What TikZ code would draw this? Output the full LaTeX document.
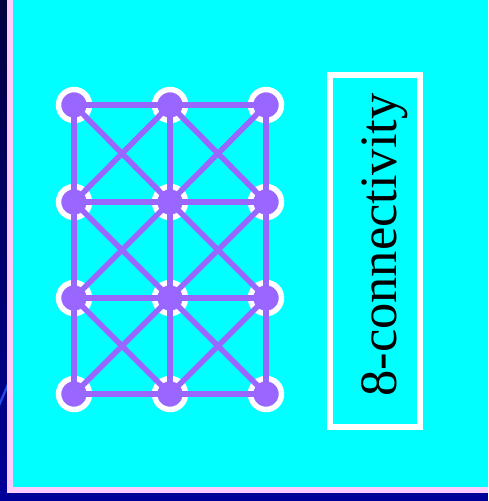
\documentclass[tikz,border=0pt]{standalone}
\usepackage{fontspec}
\setmainfont{Liberation Serif}
\usetikzlibrary{positioning}
\definecolor{sky}{HTML}{00FFFF}
\definecolor{vert}{HTML}{9966FF}
\definecolor{rim}{HTML}{FFCCFF}
\definecolor{navy}{HTML}{000040}
\definecolor{deep}{HTML}{000099}
\definecolor{streak}{HTML}{3366FF}
\tikzset{
  pix/.style={circle, fill=vert, draw=white, line width=5.5pt, minimum size=31pt, inner sep=0pt},
  link/.style={draw=vert, line width=5.5pt},
  frame/.style={draw=white, line width=5.5pt, minimum width=90pt, minimum height=352pt, inner sep=0pt},
  vtext/.style={rotate=90, anchor=base, inner sep=0pt, text=black, font=\fontsize{52.5}{52.5}\selectfont},
}

\begin{document}
\begin{tikzpicture}[x=1pt, y=-1pt]
  \useasboundingbox (0,0) rectangle (488,501);
  % background and slide edge
  \shade[top color=navy, bottom color=deep] (0,0) rectangle (7,501);
  \fill[streak!70!deep] (0,400) -- (7,384) -- (7,390) -- (0,406) -- cycle;
  \fill[deep] (0,493) rectangle (488,501);
  \fill[rim] (7,0) rectangle (488,493);
  \fill[sky] (13,0) rectangle (488,487);
  % pixels
  \foreach \c/\x in {1/74,2/170,3/266}
    \foreach \r/\y in {1/105,2/202,3/298,4/394}
      \node[pix] (p\c\r) at (\x,\y) {};
  % neighbour links
  \foreach \c/\cc in {1/2,2/3}
    \foreach \r in {1,...,4}
      \draw[link] (p\c\r.center) -- (p\cc\r.center);
  \foreach \c in {1,2,3}
    \foreach \r/\rr in {1/2,2/3,3/4}
      \draw[link] (p\c\r.center) -- (p\c\rr.center);
  \foreach \c/\cc in {1/2,2/3}
    \foreach \r/\rr in {1/2,2/3,3/4} {
      \draw[link] (p\c\r.center) -- (p\cc\rr.center);
      \draw[link] (p\cc\r.center) -- (p\c\rr.center);
    }
  % caption
  \node[frame] (box) at (375,251) {};
  \node[vtext] (cap) at (396,245) {8-connectivity};
\end{tikzpicture}
\end{document}
